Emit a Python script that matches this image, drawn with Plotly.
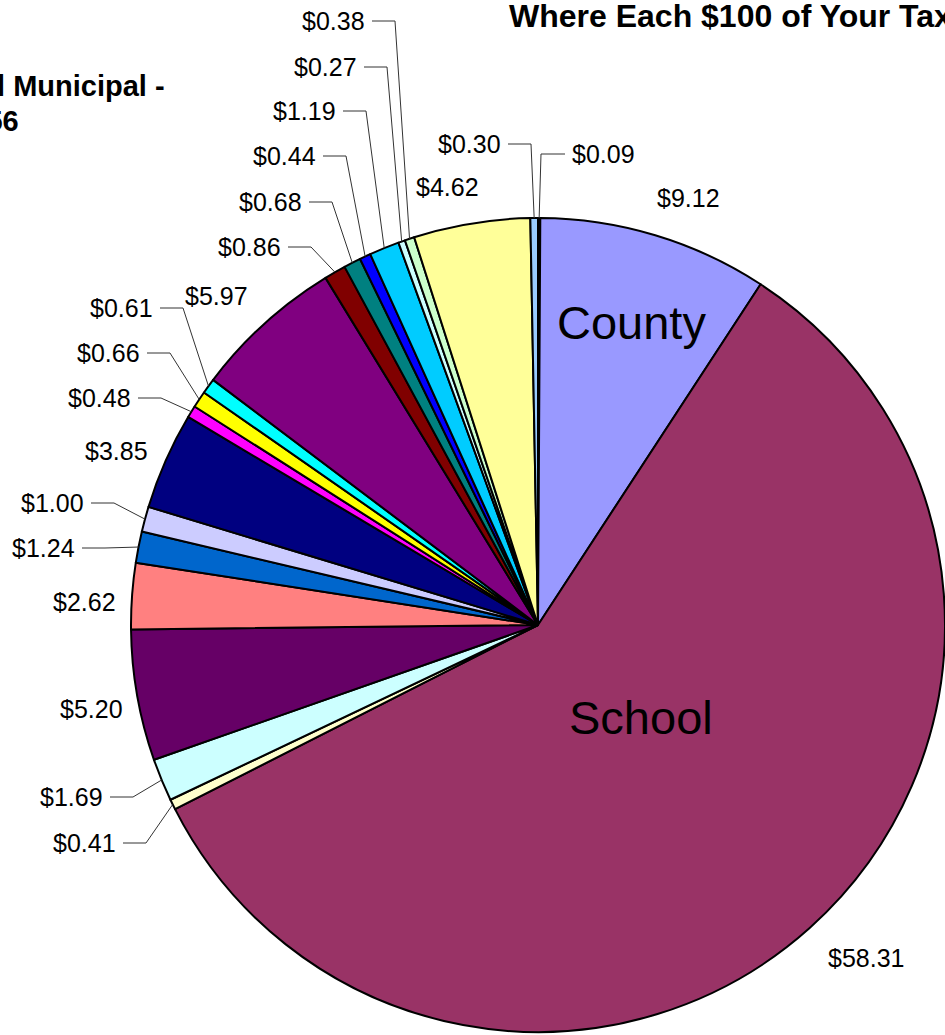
import math
import plotly.graph_objects as go

# ---------------- data ----------------
names = ["Item A", "County", "School", "Item B", "Item C", "Item D", "Item E", "Item F",
         "Item G", "Item H", "Item I", "Item J", "Item K", "Item L", "Item M", "Item N",
         "Item O", "Item P", "Item Q", "Item R", "Item S", "Item T"]
values = [0.09, 9.12, 58.31, 0.41, 1.69, 5.20, 2.62, 1.24, 1.00, 3.85, 0.48, 0.66,
          0.61, 5.97, 0.86, 0.68, 0.44, 1.19, 0.27, 0.38, 4.62, 0.30]
value_labels = ["$0.09", "$9.12", "$58.31", "$0.41", "$1.69", "$5.20", "$2.62", "$1.24",
                "$1.00", "$3.85", "$0.48", "$0.66", "$0.61", "$5.97", "$0.86", "$0.68",
                "$0.44", "$1.19", "$0.27", "$0.38", "$4.62", "$0.30"]
colors = ["#000080", "#9999FF", "#993366", "#FFFFCC", "#CCFFFF", "#660066", "#FF8080",
          "#0066CC", "#CCCCFF", "#000080", "#FF00FF", "#FFFF00", "#00FFFF", "#800080",
          "#800000", "#008080", "#0000FF", "#00CCFF", "#CCFFFF", "#CCFFCC", "#FFFF99",
          "#99CCFF"]
title_text = "Where Each $100 of Your Tax Dollars Goes"
side_text_1 = "Total Municipal -"
side_text_2 = "$32.56"

# ---------------- layout settings (pixels) ----------------
W, H = 945, 1035
PIE_LEFT, PIE_TOP, PIE_BOTTOM = 131, 218, 1032
CX = (PIE_LEFT + W) / 2.0
CY = (PIE_TOP + PIE_BOTTOM) / 2.0
R = min(W - PIE_LEFT, PIE_BOTTOM - PIE_TOP) / 2.0

# label placement: (x, y, mode) ; mode: 'c' centred, 'r' right end + leader, 'l' left end + leader
label_place = {
    0: (570, 154, "l"), 1: (688, 198, "c"), 2: (866, 958, "c"), 3: (118, 843, "r"),
    4: (105, 797, "r"), 5: (91, 709, "c"), 6: (84, 602, "c"), 7: (77, 548, "r"),
    8: (86, 503, "r"), 9: (116, 451, "c"), 10: (133, 398, "r"), 11: (142, 353, "r"),
    12: (155, 308, "r"), 13: (216, 296, "c"), 14: (283, 247, "r"), 15: (304, 202, "r"),
    16: (318, 156, "r"), 17: (338, 111, "r"), 18: (359, 67, "r"), 19: (367, 21, "r"),
    20: (447, 187, "c"), 21: (503, 144, "r"),
}
inner_place = {1: (631, 322), 2: (641, 717)}

FONT = "Arial, Liberation Sans, sans-serif"


def px(x):
    return x / W


def py(y):
    return 1 - y / H


total = sum(values)
cum = 0.0
mid_angles = []
for v in values:
    mid_angles.append((cum + v / 2.0) / total * 2 * math.pi)
    cum += v

fig = go.Figure()
fig.add_trace(go.Pie(
    labels=names, values=values, sort=False, direction="clockwise", rotation=0,
    marker=dict(colors=colors, line=dict(color="black", width=2)),
    textinfo="none", hoverinfo="label+value", showlegend=False,
    domain=dict(x=[px(PIE_LEFT), 1.0], y=[py(PIE_BOTTOM), py(PIE_TOP)]),
))

annotations = []
shapes = []
line_style = dict(color="#333333", width=1)
lab_font = dict(family=FONT, size=25, color="black")
for i, lab in enumerate(value_labels):
    x, y, mode = label_place[i]
    a = mid_angles[i]
    ex = CX + R * math.sin(a)
    ey = CY - R * math.cos(a)
    if mode == "c":
        annotations.append(dict(x=px(x), y=py(y), xref="paper", yref="paper", text=lab,
                                showarrow=False, xanchor="center", yanchor="middle",
                                font=lab_font))
    elif mode == "r":
        annotations.append(dict(x=px(x), y=py(y), xref="paper", yref="paper", text=lab,
                                showarrow=False, xanchor="right", yanchor="middle",
                                font=lab_font))
        shapes.append(dict(type="line", xref="paper", yref="paper", x0=px(x + 5), y0=py(y),
                           x1=px(x + 28), y1=py(y), line=line_style))
        shapes.append(dict(type="line", xref="paper", yref="paper", x0=px(x + 28), y0=py(y),
                           x1=px(ex), y1=py(ey), line=line_style))
    else:
        annotations.append(dict(x=px(x), y=py(y), xref="paper", yref="paper", text=lab,
                                showarrow=False, xanchor="left", yanchor="middle",
                                font=lab_font))
        shapes.append(dict(type="line", xref="paper", yref="paper", x0=px(x - 5), y0=py(y),
                           x1=px(x - 29), y1=py(y), line=line_style))
        shapes.append(dict(type="line", xref="paper", yref="paper", x0=px(x - 29), y0=py(y),
                           x1=px(ex), y1=py(ey), line=line_style))

for i, (x, y) in inner_place.items():
    annotations.append(dict(x=px(x), y=py(y), xref="paper", yref="paper", text=names[i],
                            showarrow=False, xanchor="center", yanchor="middle",
                            font=dict(family=FONT, size=47, color="black")))

annotations.append(dict(x=px(507), y=py(16), xref="paper", yref="paper",
                        text="<b>" + title_text + "</b>", showarrow=False,
                        xanchor="left", yanchor="middle",
                        font=dict(family=FONT, size=32, color="black")))
annotations.append(dict(x=px(167), y=py(86), xref="paper", yref="paper",
                        text="<b>" + side_text_1 + "</b>", showarrow=False,
                        xanchor="right", yanchor="middle",
                        font=dict(family=FONT, size=29, color="black")))
annotations.append(dict(x=px(21), y=py(121), xref="paper", yref="paper",
                        text="<b>" + side_text_2 + "</b>", showarrow=False,
                        xanchor="right", yanchor="middle",
                        font=dict(family=FONT, size=29, color="black")))

fig.update_layout(
    width=W, height=H, margin=dict(l=0, r=0, t=0, b=0),
    paper_bgcolor="white", plot_bgcolor="white",
    annotations=annotations, shapes=shapes,
)

fig.write_html("out.html")
